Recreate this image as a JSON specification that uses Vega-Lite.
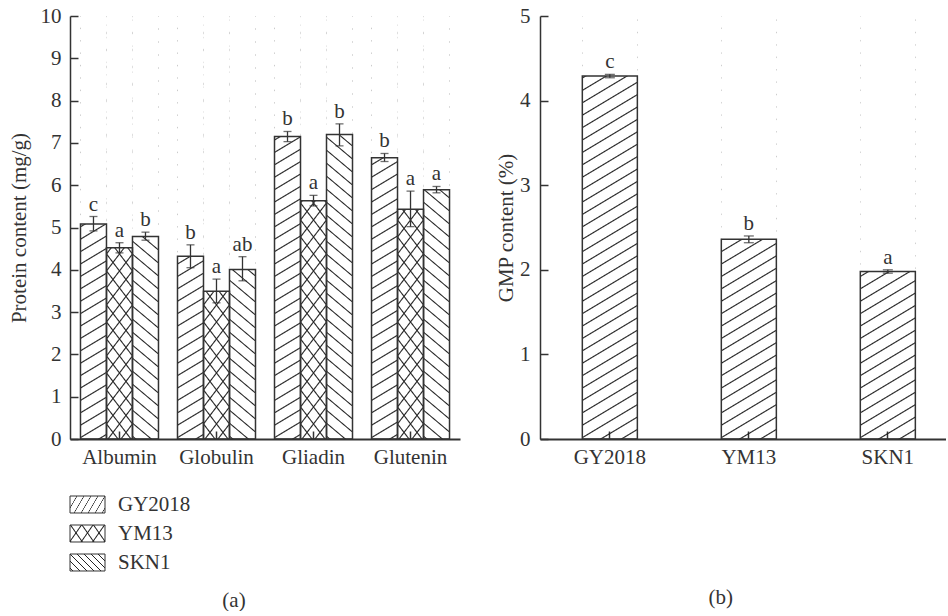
{
  "$schema": "https://vega.github.io/schema/vega-lite/v6.json",
  "padding": {"left": 8, "top": 5, "right": 0, "bottom": 0},
  "background": "white",
  "config": {
    "view": {"stroke": null},
    "font": "Liberation Serif",
    "axis": {"labelFont": "Liberation Serif", "titleFont": "Liberation Serif", "labelFontSize": 21, "titleFontSize": 21, "labelColor": "#333", "titleColor": "#333", "titleFontWeight": "normal", "domainColor": "#333", "tickColor": "#333", "grid": false, "zindex": 1, "tickSize": -8, "domainWidth": 1.5, "tickWidth": 1.5},
    "title": {"font": "Liberation Serif", "fontSize": 21, "fontWeight": "normal", "color": "#333"}
  },
  "params": [
    {"name": "hs", "value": [
      {"offset":0,"color":"#222"},{"offset":0.0025,"color":"#0000"},{"offset":0.0225,"color":"#0000"},
      {"offset":0.025,"color":"#222"},{"offset":0.0275,"color":"#0000"},{"offset":0.0475,"color":"#0000"},
      {"offset":0.05,"color":"#222"},{"offset":0.0525,"color":"#0000"},{"offset":0.0725,"color":"#0000"},
      {"offset":0.075,"color":"#222"},{"offset":0.0775,"color":"#0000"},{"offset":0.0975,"color":"#0000"},
      {"offset":0.1,"color":"#222"},{"offset":0.1025,"color":"#0000"},{"offset":0.1225,"color":"#0000"},
      {"offset":0.125,"color":"#222"},{"offset":0.1275,"color":"#0000"},{"offset":0.1475,"color":"#0000"},
      {"offset":0.15,"color":"#222"},{"offset":0.1525,"color":"#0000"},{"offset":0.1725,"color":"#0000"},
      {"offset":0.175,"color":"#222"},{"offset":0.1775,"color":"#0000"},{"offset":0.1975,"color":"#0000"},
      {"offset":0.2,"color":"#222"},{"offset":0.2025,"color":"#0000"},{"offset":0.2225,"color":"#0000"},
      {"offset":0.225,"color":"#222"},{"offset":0.2275,"color":"#0000"},{"offset":0.2475,"color":"#0000"},
      {"offset":0.25,"color":"#222"},{"offset":0.2525,"color":"#0000"},{"offset":0.2725,"color":"#0000"},
      {"offset":0.275,"color":"#222"},{"offset":0.2775,"color":"#0000"},{"offset":0.2975,"color":"#0000"},
      {"offset":0.3,"color":"#222"},{"offset":0.3025,"color":"#0000"},{"offset":0.3225,"color":"#0000"},
      {"offset":0.325,"color":"#222"},{"offset":0.3275,"color":"#0000"},{"offset":0.3475,"color":"#0000"},
      {"offset":0.35,"color":"#222"},{"offset":0.3525,"color":"#0000"},{"offset":0.3725,"color":"#0000"},
      {"offset":0.375,"color":"#222"},{"offset":0.3775,"color":"#0000"},{"offset":0.3975,"color":"#0000"},
      {"offset":0.4,"color":"#222"},{"offset":0.4025,"color":"#0000"},{"offset":0.4225,"color":"#0000"},
      {"offset":0.425,"color":"#222"},{"offset":0.4275,"color":"#0000"},{"offset":0.4475,"color":"#0000"},
      {"offset":0.45,"color":"#222"},{"offset":0.4525,"color":"#0000"},{"offset":0.4725,"color":"#0000"},
      {"offset":0.475,"color":"#222"},{"offset":0.4775,"color":"#0000"},{"offset":0.4975,"color":"#0000"},
      {"offset":0.5,"color":"#222"},{"offset":0.5025,"color":"#0000"},{"offset":0.5225,"color":"#0000"},
      {"offset":0.525,"color":"#222"},{"offset":0.5275,"color":"#0000"},{"offset":0.5475,"color":"#0000"},
      {"offset":0.55,"color":"#222"},{"offset":0.5525,"color":"#0000"},{"offset":0.5725,"color":"#0000"},
      {"offset":0.575,"color":"#222"},{"offset":0.5775,"color":"#0000"},{"offset":0.5975,"color":"#0000"},
      {"offset":0.6,"color":"#222"},{"offset":0.6025,"color":"#0000"},{"offset":0.6225,"color":"#0000"},
      {"offset":0.625,"color":"#222"},{"offset":0.6275,"color":"#0000"},{"offset":0.6475,"color":"#0000"},
      {"offset":0.65,"color":"#222"},{"offset":0.6525,"color":"#0000"},{"offset":0.6725,"color":"#0000"},
      {"offset":0.675,"color":"#222"},{"offset":0.6775,"color":"#0000"},{"offset":0.6975,"color":"#0000"},
      {"offset":0.7,"color":"#222"},{"offset":0.7025,"color":"#0000"},{"offset":0.7225,"color":"#0000"},
      {"offset":0.725,"color":"#222"},{"offset":0.7275,"color":"#0000"},{"offset":0.7475,"color":"#0000"},
      {"offset":0.75,"color":"#222"},{"offset":0.7525,"color":"#0000"},{"offset":0.7725,"color":"#0000"},
      {"offset":0.775,"color":"#222"},{"offset":0.7775,"color":"#0000"},{"offset":0.7975,"color":"#0000"},
      {"offset":0.8,"color":"#222"},{"offset":0.8025,"color":"#0000"},{"offset":0.8225,"color":"#0000"},
      {"offset":0.825,"color":"#222"},{"offset":0.8275,"color":"#0000"},{"offset":0.8475,"color":"#0000"},
      {"offset":0.85,"color":"#222"},{"offset":0.8525,"color":"#0000"},{"offset":0.8725,"color":"#0000"},
      {"offset":0.875,"color":"#222"},{"offset":0.8775,"color":"#0000"},{"offset":0.8975,"color":"#0000"},
      {"offset":0.9,"color":"#222"},{"offset":0.9025,"color":"#0000"},{"offset":0.9225,"color":"#0000"},
      {"offset":0.925,"color":"#222"},{"offset":0.9275,"color":"#0000"},{"offset":0.9475,"color":"#0000"},
      {"offset":0.95,"color":"#222"},{"offset":0.9525,"color":"#0000"},{"offset":0.9725,"color":"#0000"},
      {"offset":0.975,"color":"#222"},{"offset":0.9775,"color":"#0000"},{"offset":0.9975,"color":"#0000"},
      {"offset":1,"color":"#222"}
    ]}
  ],
  "datasets": {
    "protein": [
      {"group":"Albumin","cultivar":"GY2018","mean":5.08,"lo":4.92,"hi":5.26,"letter":"c"},
      {"group":"Albumin","cultivar":"YM13","mean":4.52,"lo":4.40,"hi":4.64,"letter":"a"},
      {"group":"Albumin","cultivar":"SKN1","mean":4.79,"lo":4.70,"hi":4.89,"letter":"b"},
      {"group":"Globulin","cultivar":"GY2018","mean":4.32,"lo":4.05,"hi":4.59,"letter":"b"},
      {"group":"Globulin","cultivar":"YM13","mean":3.49,"lo":3.22,"hi":3.78,"letter":"a"},
      {"group":"Globulin","cultivar":"SKN1","mean":4.01,"lo":3.74,"hi":4.31,"letter":"ab"},
      {"group":"Gliadin","cultivar":"GY2018","mean":7.15,"lo":7.03,"hi":7.27,"letter":"b"},
      {"group":"Gliadin","cultivar":"YM13","mean":5.63,"lo":5.51,"hi":5.76,"letter":"a"},
      {"group":"Gliadin","cultivar":"SKN1","mean":7.20,"lo":6.93,"hi":7.45,"letter":"b"},
      {"group":"Glutenin","cultivar":"GY2018","mean":6.65,"lo":6.56,"hi":6.75,"letter":"b"},
      {"group":"Glutenin","cultivar":"YM13","mean":5.43,"lo":5.02,"hi":5.86,"letter":"a"},
      {"group":"Glutenin","cultivar":"SKN1","mean":5.89,"lo":5.82,"hi":5.97,"letter":"a"}
    ],
    "gmp": [
      {"cultivar":"GY2018","mean":4.29,"lo":4.27,"hi":4.31,"letter":"c"},
      {"cultivar":"YM13","mean":2.36,"lo":2.32,"hi":2.40,"letter":"b"},
      {"cultivar":"SKN1","mean":1.98,"lo":1.96,"hi":2.00,"letter":"a"}
    ],
    "cult": [{"cultivar":"GY2018"},{"cultivar":"YM13"},{"cultivar":"SKN1"}]
  },
  "hconcat": [
    {
      "title": {"text": "(a)", "orient": "bottom", "anchor": "middle", "frame": "bounds", "offset": 13},
      "bounds": "flush",
      "spacing": 51,
      "vconcat": [
        {
          "width": 390, "height": 423,
          "data": {"name": "protein"},
          "encoding": {
            "x": {"field": "group", "type": "nominal", "scale": {"domain": ["Albumin","Globulin","Gliadin","Glutenin"], "paddingInner": 0.196, "paddingOuter": 0.108}, "axis": {"title": null, "labelAngle": 0, "labelPadding": 15, "domainWidth": 2}},
            "xOffset": {"field": "cultivar", "type": "nominal", "scale": {"domain": ["GY2018","YM13","SKN1"], "paddingInner": 0, "paddingOuter": 0}}
          },
          "layer": [
            {"transform": [{"filter": "datum.cultivar === 'GY2018'"}],
             "mark": {"type": "bar", "fill": {"expr": "{gradient:'linear',x1:0,y1:0,x2:0.0432,y2:1.171,stops:hs}"}},
             "encoding": {"y": {"datum": 10, "type": "quantitative", "title": "Protein content (mg/g)", "scale": {"domain": [0,10], "nice": false}, "axis": {"values": [0,1,2,3,4,5,6,7,8,9,10], "format": "d", "labelPadding": 17, "titlePadding": 11}}, "y2": {"datum": 0}}},
            {"transform": [{"filter": "datum.cultivar === 'YM13'"}],
             "mark": {"type": "bar", "fill": {"expr": "{gradient:'linear',x1:0,y1:0,x2:0.1284,y2:1.597,stops:hs}"}},
             "encoding": {"y": {"datum": 10, "type": "quantitative", "title": "Protein content (mg/g)"}, "y2": {"datum": 0}}},
            {"transform": [{"filter": "datum.cultivar === 'YM13'"}],
             "mark": {"type": "bar", "fill": {"expr": "{gradient:'linear',x1:1,y1:0,x2:0.8716,y2:1.597,stops:hs}"}},
             "encoding": {"y": {"datum": 10, "type": "quantitative", "title": "Protein content (mg/g)"}, "y2": {"datum": 0}}},
            {"transform": [{"filter": "datum.cultivar === 'SKN1'"}],
             "mark": {"type": "bar", "fill": {"expr": "{gradient:'linear',x1:1,y1:0,x2:0.9367,y2:1.2261,stops:hs}"}},
             "encoding": {"y": {"datum": 10, "type": "quantitative", "title": "Protein content (mg/g)"}, "y2": {"datum": 0}}},
            {"mark": {"type": "bar", "fill": "white"},
             "encoding": {"y": {"field": "mean", "type": "quantitative", "title": "Protein content (mg/g)", "stack": null}, "y2": {"datum": 10}}},
            {"mark": {"type": "bar", "fillOpacity": 0, "stroke": "#333", "strokeWidth": 1.5},
             "encoding": {"y": {"field": "mean", "type": "quantitative", "title": "Protein content (mg/g)", "stack": null}}},
            {"mark": {"type": "rule", "color": "#333", "strokeWidth": 1.3},
             "encoding": {"y": {"field": "lo", "type": "quantitative", "title": "Protein content (mg/g)"}, "y2": {"field": "hi"}}},
            {"mark": {"type": "tick", "color": "#333", "size": 8, "thickness": 1.3},
             "encoding": {"y": {"field": "lo", "type": "quantitative", "title": "Protein content (mg/g)"}}},
            {"mark": {"type": "tick", "color": "#333", "size": 8, "thickness": 1.3},
             "encoding": {"y": {"field": "hi", "type": "quantitative", "title": "Protein content (mg/g)"}}},
            {"mark": {"type": "text", "dy": -6, "baseline": "alphabetic", "fontSize": 21, "color": "#333", "font": "Liberation Serif"},
             "encoding": {"y": {"field": "hi", "type": "quantitative", "title": "Protein content (mg/g)"}, "text": {"field": "letter"}}}
          ]
        },
        {
          "width": 35, "height": 87,
          "data": {"name": "cult"},
          "encoding": {
            "y": {"field": "cultivar", "type": "nominal", "scale": {"domain": ["GY2018","YM13","SKN1"], "paddingInner": 0.414, "paddingOuter": 0.207}, "axis": null}
          },
          "layer": [
            {"transform": [{"filter": "datum.cultivar === 'GY2018'"}],
             "mark": {"type": "bar", "fill": {"expr": "{gradient:'linear',x1:0,y1:0,x2:7.407,y2:2.099,stops:hs}"}},
             "encoding": {"x": {"datum": 0, "type": "quantitative", "scale": {"domain": [0,1]}, "axis": null}, "x2": {"datum": 1}}},
            {"transform": [{"filter": "datum.cultivar === 'YM13'"}],
             "mark": {"type": "bar", "fill": {"expr": "{gradient:'linear',x1:0,y1:0,x2:11.78,y2:4.013,stops:hs}"}},
             "encoding": {"x": {"datum": 0, "type": "quantitative", "scale": {"domain": [0,1]}, "axis": null}, "x2": {"datum": 1}}},
            {"transform": [{"filter": "datum.cultivar === 'YM13'"}],
             "mark": {"type": "bar", "fill": {"expr": "{gradient:'linear',x1:1,y1:0,x2:-10.78,y2:4.013,stops:hs}"}},
             "encoding": {"x": {"datum": 0, "type": "quantitative", "scale": {"domain": [0,1]}, "axis": null}, "x2": {"datum": 1}}},
            {"transform": [{"filter": "datum.cultivar === 'SKN1'"}],
             "mark": {"type": "bar", "fill": {"expr": "{gradient:'linear',x1:1,y1:0,x2:-5.472,y2:3.144,stops:hs}"}},
             "encoding": {"x": {"datum": 0, "type": "quantitative", "scale": {"domain": [0,1]}, "axis": null}, "x2": {"datum": 1}}},
            {"mark": {"type": "bar", "fillOpacity": 0, "stroke": "#333", "strokeWidth": 1},
             "encoding": {"x": {"datum": 0, "type": "quantitative", "scale": {"domain": [0,1]}, "axis": null}, "x2": {"datum": 1}}},
            {"mark": {"type": "text", "align": "left", "baseline": "middle", "dx": 13, "fontSize": 21, "color": "#333", "font": "Liberation Serif"},
             "encoding": {"x": {"datum": 1, "type": "quantitative", "scale": {"domain": [0,1]}, "axis": null}, "text": {"field": "cultivar"}}}
          ]
        }
      ]
    },
    {
      "width": 406, "height": 423,
      "title": {"text": "(b)", "orient": "bottom", "anchor": "middle", "frame": "bounds", "offset": 120},
      "data": {"name": "gmp"},
      "encoding": {
        "x": {"field": "cultivar", "type": "nominal", "scale": {"domain": ["GY2018","YM13","SKN1"], "paddingInner": 0.604, "paddingOuter": 0.2625, "align": 0.58}, "axis": {"title": null, "labelAngle": 0, "labelPadding": 15, "domainWidth": 2}}
      },
      "layer": [
        {"mark": {"type": "bar", "fill": {"expr": "{gradient:'linear',x1:0,y1:0,x2:0.0909,y2:1.1656,stops:hs}"}},
         "encoding": {"y": {"datum": 5, "type": "quantitative", "title": "GMP content (%)", "scale": {"domain": [0,5], "nice": false}, "axis": {"values": [0,1,2,3,4,5], "format": "d", "labelPadding": 18, "titlePadding": 3}}, "y2": {"datum": 0}}},
        {"mark": {"type": "bar", "fill": "white"},
         "encoding": {"y": {"field": "mean", "type": "quantitative", "title": "GMP content (%)", "stack": null}, "y2": {"datum": 5}}},
        {"mark": {"type": "bar", "fillOpacity": 0, "stroke": "#333", "strokeWidth": 1.5},
         "encoding": {"y": {"field": "mean", "type": "quantitative", "title": "GMP content (%)", "stack": null}}},
        {"mark": {"type": "rule", "color": "#333", "strokeWidth": 1.3},
         "encoding": {"y": {"field": "lo", "type": "quantitative", "title": "GMP content (%)"}, "y2": {"field": "hi"}}},
        {"mark": {"type": "tick", "color": "#333", "size": 10, "thickness": 1.3},
         "encoding": {"y": {"field": "lo", "type": "quantitative", "title": "GMP content (%)"}}},
        {"mark": {"type": "tick", "color": "#333", "size": 10, "thickness": 1.3},
         "encoding": {"y": {"field": "hi", "type": "quantitative", "title": "GMP content (%)"}}},
        {"mark": {"type": "text", "dy": -6, "baseline": "alphabetic", "fontSize": 21, "color": "#333", "font": "Liberation Serif"},
         "encoding": {"y": {"field": "hi", "type": "quantitative", "title": "GMP content (%)"}, "text": {"field": "letter"}}}
      ]
    }
  ],
  "spacing": 35
}
